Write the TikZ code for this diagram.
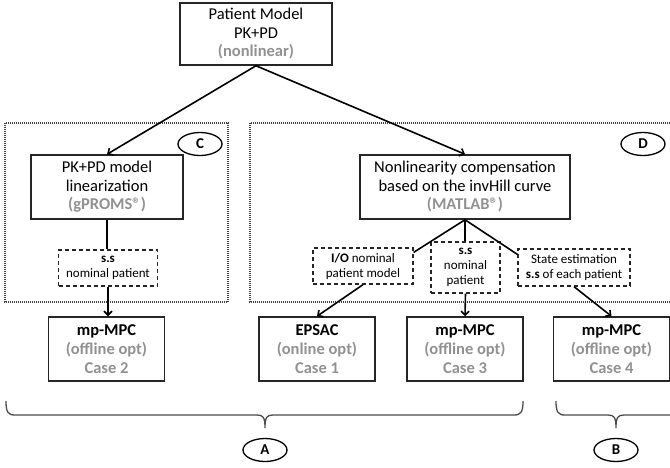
\documentclass[tikz,border=0pt]{standalone}
\usepackage{fontspec}
\setmainfont{Carlito}
\usetikzlibrary{arrows.meta,positioning,shapes}
\definecolor{soft}{RGB}{145,145,145}
\tikzstyle{block}=[rectangle,draw=black!85,line width=1.5pt,align=center,inner sep=0pt,
    font=\fontsize{16.5}{18.5}\selectfont]
\tikzstyle{case}=[block,minimum width=116pt,minimum height=64pt,
    font=\fontsize{16.5}{19}\selectfont\bfseries]
\tikzstyle{hint}=[rectangle,draw=black!85,line width=1.3pt,dash pattern=on 4pt off 3pt,
    align=center,inner sep=0pt,font=\fontsize{13}{15}\selectfont]
\tikzstyle{tag}=[ellipse,draw=black,line width=1.3pt,inner sep=0pt,minimum width=44pt,
    minimum height=23pt,font=\fontsize{15}{15}\selectfont\bfseries]
\tikzstyle{group}=[draw=black!75,line width=1.4pt,dash pattern=on 1pt off 1pt]
\tikzstyle{link}=[draw=black,line width=1.6pt]
\tikzstyle{flow}=[link,-{Straight Barb[length=4pt,width=8pt]}]
\tikzstyle{brace}=[draw=black!70,line width=1.3pt]

\begin{document}
\begin{tikzpicture}[x=1pt,y=-1pt]
	\useasboundingbox (0,0) rectangle (670,467);

	% dotted groups C and D
	\draw[group] (5,123) rectangle (228,302);
	\draw[group] (672,123) -- (250,123) -- (250,302) -- (672,302);
	\node[tag] (c) at (200,144) {C};
	\node[tag] (d) at (643,144) {D};

	\node[block,minimum width=152pt,minimum height=62pt] (model) at (256,34)
		{Patient Model\\PK+PD\\\textcolor{soft}{\bfseries (nonlinear)}};
	\node[block,minimum width=152pt,minimum height=64pt] (lin) at (107,187)
		{PK+PD model\\linearization\\\textcolor{soft}{\bfseries (gPROMS\textregistered)}};
	\node[block,minimum width=210pt,minimum height=64pt] (comp) at (465,187)
		{Nonlinearity compensation\\based on the invHill curve\\\textcolor{soft}{\bfseries (MATLAB\textregistered)}};

	\node[hint,minimum width=99pt,minimum height=36pt] (ssa) at (108,268) {\textbf{s.s}\\nominal patient};
	\node[hint,minimum width=100pt,minimum height=36pt] (io) at (363,266) {\textbf{I/O} nominal\\patient model};
	\node[hint,minimum width=69pt,minimum height=51pt] (ssb) at (465.5,267.5) {\textbf{s.s}\\nominal\\patient};
	\node[hint,minimum width=112pt,minimum height=37pt] (est) at (574,267.5) {State estimation\\\textbf{s.s} of each patient};

	\node[case] (case2) at (106.5,349) {mp-MPC\\\textcolor{soft}{(offline opt)}\\\textcolor{soft}{Case 2}};
	\node[case] (case1) at (317,349) {EPSAC\\\textcolor{soft}{(online opt)}\\\textcolor{soft}{Case 1}};
	\node[case] (case3) at (465,349) {mp-MPC\\\textcolor{soft}{(offline opt)}\\\textcolor{soft}{Case 3}};
	\node[case] (case4) at (611.5,349) {mp-MPC\\\textcolor{soft}{(offline opt)}\\\textcolor{soft}{Case 4}};

	\draw[flow] (model.south) -- (lin.north);
	\draw[flow] (model.south) -- (comp.north);
	\draw[link] (lin.south) -- (lin.south |- ssa.north);
	\draw[link] (comp.south) -- (comp.south |- ssb.north);
	\draw[link] (comp.south) -- ([yshift=-5pt]io.north east);
	\draw[link] (comp.south) -- ([yshift=-6pt]est.north west);
	\draw[flow] (ssa.south) -- (ssa.south |- case2.north);
	\draw[flow] (io.south) -- (case1.north);
	\draw[flow] (ssb.south) -- (case3.north);
	\draw[flow] (est.south) -- (case4.north);

	% braces A and B
	\draw[brace] (6,401) .. controls (6,412) and (8,415) .. (15,415) -- (257,415)
		.. controls (263,415) and (265,417) .. (265,428)
		.. controls (265,417) and (267,415) .. (273,415) -- (514,415)
		.. controls (521,415) and (523,412) .. (523,401);
	\draw[brace] (556,401) .. controls (556,412) and (558,415) .. (565,415) -- (608,415)
		.. controls (614,415) and (616,417) .. (616,428)
		.. controls (616,417) and (618,415) .. (624,415) -- (672,415);
	\node[tag] (a) at (265,450) {A};
	\node[tag] (b) at (616,450) {B};
\end{tikzpicture}
\end{document}
